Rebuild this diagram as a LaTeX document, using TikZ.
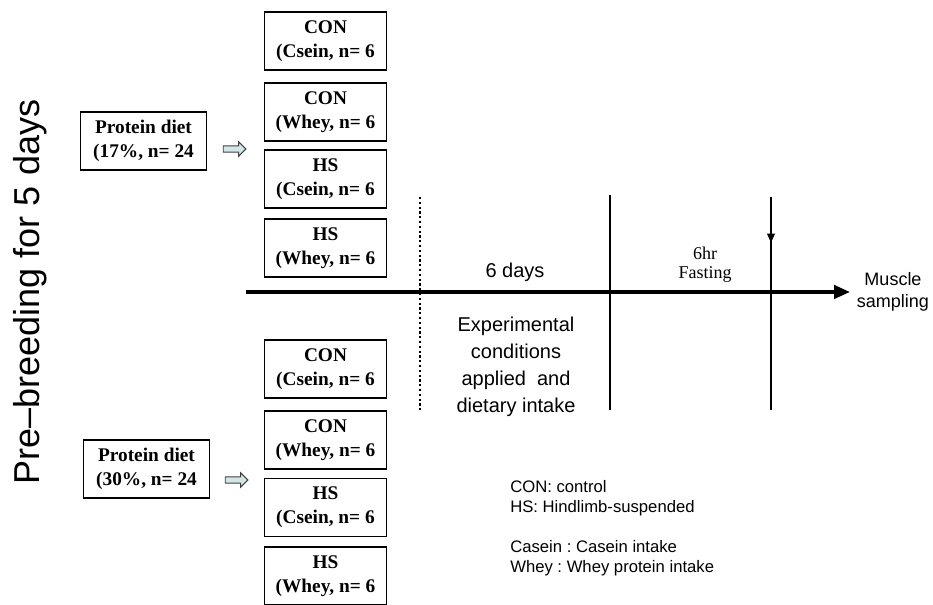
\documentclass[tikz,border=0pt]{standalone}
\usepackage{fontspec}
\setmainfont{Liberation Sans}
\newfontfamily\grpfont{Liberation Serif}
\usetikzlibrary{arrows.meta,shapes.arrows}

\definecolor{arrowfill}{HTML}{D2E6E6}

\tikzset{
    grpbox/.style={draw, line width=0.8pt, minimum width=92pt, minimum height=43.5pt,
        align=center, inner sep=0pt, font=\grpfont\bfseries\fontsize{14.5}{18}\selectfont},
    dietbox/.style={grpbox, minimum width=94pt},
    blockarrow/.style={single arrow, draw=black!75, fill=arrowfill, line width=0.7pt,
        minimum width=11pt, minimum height=17pt, single arrow head extend=2.5pt, inner sep=1.5pt},
    timeline/.style={line width=2.6pt},
    label/.style={align=center, font=\fontsize{15}{20}\selectfont}
}

\begin{document}
\frenchspacing
\begin{tikzpicture}[x=0.75pt, y=-0.75pt]
        \useasboundingbox (0, 0) rectangle (933, 605);

        \node[rotate=90, font=\fontsize{27}{30}\selectfont] (prebreed) at (30, 292) {Pre--breeding for 5 days};

        \node[dietbox] (diet17) at (143.5, 141) {Protein diet\\(17\%, n= 24};
        \node[dietbox] (diet30) at (146.5, 469) {Protein diet\\(30\%, n= 24};

        \node[blockarrow] (arr17) at (233, 149) {};
        \node[blockarrow] (arr30) at (235, 480) {};

        \node[grpbox] (conc17) at (325.5, 41) {CON\\(Csein, n= 6};
        \node[grpbox] (conw17) at (325.5, 112) {CON\\(Whey, n= 6};
        \node[grpbox] (hsc17) at (325.5, 179) {HS\\(Csein, n= 6};
        \node[grpbox] (hsw17) at (325.5, 248) {HS\\(Whey, n= 6};

        \node[grpbox] (conc30) at (325.5, 369) {CON\\(Csein, n= 6};
        \node[grpbox] (conw30) at (325.5, 440) {CON\\(Whey, n= 6};
        \node[grpbox] (hsc30) at (325.5, 507.5) {HS\\(Csein, n= 6};
        \node[grpbox] (hsw30) at (325.5, 576) {HS\\(Whey, n= 6};

        \coordinate (tstart) at (246, 292);
        \coordinate (tend) at (850, 292);
        \coordinate (dtop) at (420, 197);
        \coordinate (dbot) at (420, 410);
        \coordinate (ftop) at (610, 195);
        \coordinate (fbot) at (610, 410);
        \coordinate (stop) at (771, 197);
        \coordinate (smid) at (771, 243);
        \coordinate (sbot) at (771, 410);

        \draw[timeline, -{Triangle[length=12pt, width=10pt]}] (tstart) -- (tend);
        \draw[line width=1.6pt, dotted] (dtop) -- (dbot);
        \draw[line width=2.1pt] (ftop) -- (fbot);
        \draw[line width=2.1pt] (stop) -- (sbot);
        \draw[line width=2.1pt, -{Triangle[length=7pt, width=5.5pt]}] (stop) -- (smid);

        \node[label] (days) at (515, 272) {6 days};
        \node[label, font=\fontsize{15}{20.25}\selectfont] (cond) at (516, 367) {Experimental\\conditions\\applied \ and\\dietary intake};
        \node[align=center, font=\grpfont\fontsize{13.5}{14.5}\selectfont] (fast) at (705, 265) {6hr\\Fasting};
        \node[align=center, font=\fontsize{13.5}{16.5}\selectfont] (sampling) at (893, 292) {Muscle\\sampling};

        \node[anchor=north west, align=left, inner sep=0pt, font=\fontsize{12.5}{15}\selectfont] (legend) at (510, 480)
            {CON: control\\HS: Hindlimb-suspended\\[15pt]Casein : Casein intake\\Whey : Whey protein intake};
    \end{tikzpicture}
\end{document}
